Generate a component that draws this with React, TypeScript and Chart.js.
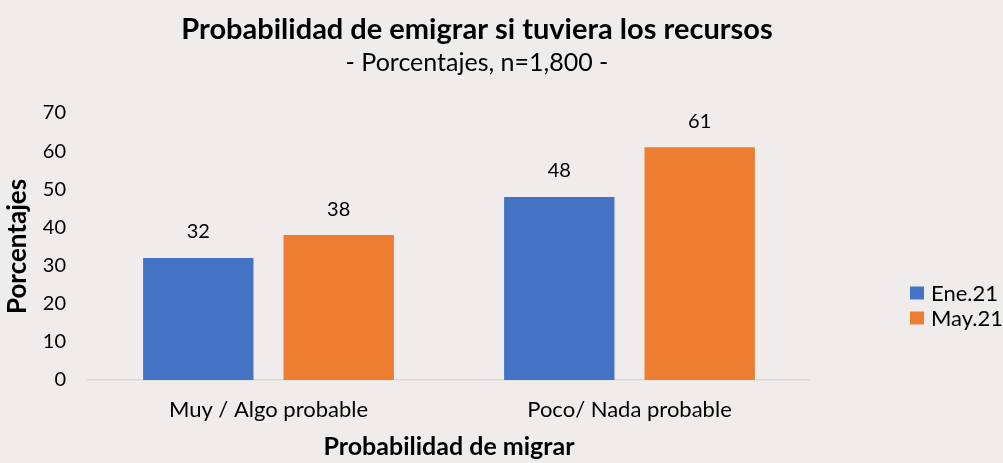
import React, { useEffect, useRef } from 'react';
import { Chart, registerables } from 'chart.js';

Chart.register(...registerables);

const categories = ['Muy / Algo probable', 'Poco/ Nada probable'];
const seriesNames = ['Ene.21', 'May.21'];
const ene21 = [32, 48];
const may21 = [38, 61];
const seriesColors = ['#4472C4', '#ED7D31'];
const titleText = 'Probabilidad de emigrar si tuviera los recursos';
const subtitleText = '- Porcentajes, n=1,800 -';
const yAxisTitle = 'Porcentajes';
const xAxisTitle = 'Probabilidad de migrar';
const yMin = 0;
const yMax = 70;
const yStep = 10;

const BG = '#F0ECEB';
const FONT = 'Lato, "Open Sans", sans-serif';

const decorPlugin = {
  id: 'decor',
  afterDatasetsDraw(chart: any) {
    const ctx = chart.ctx;
    ctx.save();
    // data labels
    ctx.font = `20px ${FONT}`;
    ctx.fillStyle = '#000';
    ctx.textAlign = 'center';
    ctx.textBaseline = 'middle';
    chart.data.datasets.forEach((ds: any, i: number) => {
      const meta = chart.getDatasetMeta(i);
      meta.data.forEach((bar: any, j: number) => {
        ctx.fillText(String(ds.data[j]), bar.x, bar.y - 26);
      });
    });
    // titles
    ctx.font = `bold 29px ${FONT}`;
    ctx.fillText(titleText, 477, 30);
    ctx.font = `25px ${FONT}`;
    ctx.fillText(subtitleText, 477, 63);
    // legend
    ctx.textAlign = 'left';
    ctx.font = `22px ${FONT}`;
    const legendY = [293, 318];
    chart.data.datasets.forEach((ds: any, i: number) => {
      ctx.fillStyle = ds.backgroundColor;
      ctx.fillRect(910, legendY[i] - 6.5, 14, 13);
      ctx.fillStyle = '#000';
      ctx.fillText(ds.label, 931, legendY[i] + 1);
    });
    ctx.restore();
  },
};

export default function App() {
  const ref = useRef<HTMLCanvasElement>(null);
  useEffect(() => {
    document.body.style.margin = '0';
    document.body.style.background = BG;
    const chart = new Chart(ref.current!, {
      type: 'bar',
      data: {
        labels: categories,
        datasets: [
          { label: seriesNames[0], data: ene21, backgroundColor: seriesColors[0] },
          { label: seriesNames[1], data: may21, backgroundColor: seriesColors[1] },
        ],
      },
      options: {
        responsive: false,
        animation: false,
        devicePixelRatio: 1,
        layout: { padding: { top: 113, right: 193, bottom: 0, left: 0 } },
        datasets: { bar: { categoryPercentage: 0.778, barPercentage: 0.786 } },
        plugins: {
          legend: { display: false },
          title: { display: false },
          tooltip: { enabled: false },
        },
        scales: {
          x: {
            grid: { display: false, drawTicks: false },
            border: { display: true, color: '#D9D9D9', width: 1.5 },
            ticks: { color: '#000', font: { family: FONT, size: 22 }, padding: 17 },
            title: {
              display: true,
              text: xAxisTitle,
              color: '#000',
              font: { family: FONT, size: 25, weight: 'bold' },
              padding: { top: 0, bottom: 1 },
            },
            afterFit(scale: any) { scale.height = 83; },
          },
          y: {
            min: yMin,
            max: yMax,
            grid: { display: false, drawTicks: false },
            border: { display: false },
            ticks: { stepSize: yStep, color: '#000', font: { family: FONT, size: 20 }, padding: 22 },
            title: {
              display: true,
              text: yAxisTitle,
              color: '#000',
              font: { family: FONT, size: 26, weight: 'bold' },
              padding: { top: 2, bottom: 0 },
            },
            afterFit(scale: any) { scale.width = 88; },
          },
        },
      },
      plugins: [decorPlugin],
    });
    return () => chart.destroy();
  }, []);
  return (
    <div style={{ width: 1003, height: 463, background: BG }}>
      <canvas ref={ref} width={1003} height={463} style={{ display: 'block' }} />
    </div>
  );
}
